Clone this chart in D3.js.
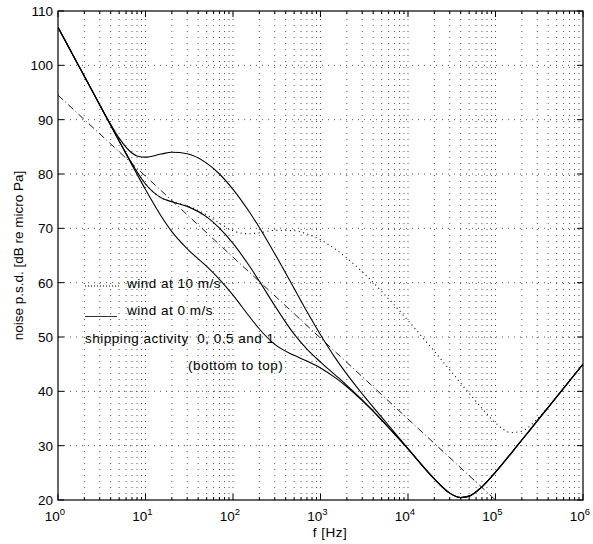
<!DOCTYPE html>
<html>
<head>
<meta charset="utf-8">
<script src="https://cdn.jsdelivr.net/npm/d3@7"></script>
<style>
  body { margin: 0; background: #fff; }
  svg { font-family: "Liberation Sans", Arial, Helvetica, sans-serif; }
</style>
</head>
<body>
<svg width="593" height="544"></svg>
<script>
// frequencies (Hz) and noise levels (dB)
const freqHz = [1, 2, 3, 4, 5, 7, 8, 10, 15, 20, 30, 50, 70, 100, 150, 200, 300, 500, 700,
  1000, 1500, 2000, 3000, 5000, 7000, 1e4, 2e4, 3e4, 4e4, 5e4, 7e4, 1e5, 1.5e5, 2e5, 3e5, 5e5, 1e6]

const ship0 = [107, 97.97, 92.69, 88.94, 86.04, 81.68, 79.96, 77.13, 72.32, 69.4, 66.24, 62.98, 60.6,
  57.69, 54.0, 51.47, 48.64, 46.62, 45.58, 44.31, 42.43, 40.84, 38.29, 34.7, 32.14, 29.41, 23.88,
  21.26, 20.44, 20.71, 22.43, 25.13, 28.55, 31.04, 34.56, 38.98, 45.0]
const ship05 = [107, 98.0, 92.7, 88.96, 86.09, 81.94, 80.4, 78.16, 75.65, 74.88, 74.04, 72.1, 70.04,
  67.22, 63.34, 60.28, 55.77, 50.52, 47.76, 45.38, 42.9, 41.11, 38.42, 34.74, 32.16, 29.42, 23.88,
  21.26, 20.44, 20.71, 22.43, 25.13, 28.55, 31.04, 34.56, 38.98, 45.0]
const ship1 = [107, 98.0, 92.74, 89.15, 86.6, 83.86, 83.33, 83.1, 83.67, 84.0, 83.74, 82.0, 80.0,
  77.17, 73.27, 70.15, 65.34, 58.93, 54.69, 50.42, 45.98, 43.16, 39.53, 35.24, 32.46, 29.44, 23.9,
  21.27, 20.45, 20.71, 22.43, 25.13, 28.55, 31.04, 34.56, 38.98, 45.0]
const wind10 = [107, 98.0, 92.7, 88.96, 86.09, 81.94, 80.4, 78.17, 75.67, 74.92, 74.14, 72.47, 70.94,
  69.56, 68.99, 69.19, 69.62, 69.57, 68.97, 67.88, 66.1, 64.53, 62.0, 58.4, 55.85, 53.04, 47.36,
  43.95, 41.52, 39.64, 36.86, 34.2, 32.42, 32.67, 34.92, 39.03, 45.0]

// reference straight line (dash-dot)
const refFreq = [1, 1e5]
const refLevel = [94.5, 20]

const yTicks = [20, 30, 40, 50, 60, 70, 80, 90, 100, 110]
const xDecades = [0, 1, 2, 3, 4, 5, 6]

const margin = { left: 58, right: 10, top: 11, bottom: 44 }
const width = 593, height = 544
const svg = d3.select('svg')

const x = d3.scaleLog().domain([1, 1e6]).range([margin.left, width - margin.right])
const y = d3.scaleLinear().domain([20, 110]).range([height - margin.bottom, margin.top])

const x0 = x.range()[0], x1 = x.range()[1]
const y0 = y.range()[0], y1 = y.range()[1]

// log minor positions
let minors = []
xDecades.slice(0, -1).forEach(d => {
  for (let k = 1; k <= 9; k++) minors.push(k * Math.pow(10, d))
})
minors.push(1e6)

const grid = svg.append('g')
grid.selectAll('.vg')
  .data(minors.filter(v => v > 1 && v < 1e6))
  .enter().append('line')
  .attr('x1', d => x(d)).attr('x2', d => x(d))
  .attr('y1', y0).attr('y2', y1)
  .style('stroke', '#555')
  .style('stroke-width', '1px')
  .style('stroke-dasharray', '1,5')
grid.selectAll('.hg')
  .data(yTicks.slice(1, -1))
  .enter().append('line')
  .attr('x1', x0).attr('x2', x1)
  .attr('y1', d => y(d)).attr('y2', d => y(d))
  .style('stroke', '#555')
  .style('stroke-width', '1px')
  .style('stroke-dasharray', '1,5')

// ticks on all four sides, pointing inward
const ticks = svg.append('g').style('stroke', '#000').style('stroke-width', '1px')
minors.forEach(v => {
  const lg = Math.log10(v)
  const major = Math.abs(lg - Math.round(lg)) < 1e-9
  const len = major ? 6 : 3
  ticks.append('line').attr('x1', x(v)).attr('x2', x(v)).attr('y1', y0).attr('y2', y0 - len)
  ticks.append('line').attr('x1', x(v)).attr('x2', x(v)).attr('y1', y1).attr('y2', y1 + len)
})
yTicks.forEach(v => {
  ticks.append('line').attr('x1', x0).attr('x2', x0 + 6).attr('y1', y(v)).attr('y2', y(v))
  ticks.append('line').attr('x1', x1).attr('x2', x1 - 6).attr('y1', y(v)).attr('y2', y(v))
})

svg.append('rect')
  .attr('x', x0).attr('y', y1)
  .attr('width', x1 - x0).attr('height', y0 - y1)
  .style('fill', 'none').style('stroke', '#000').style('stroke-width', '1.2px')

// tick labels
svg.selectAll('.yl')
  .data(yTicks)
  .enter().append('text')
  .attr('x', x0 - 5).attr('y', d => y(d) + 5)
  .attr('text-anchor', 'end')
  .style('font-size', '13.5px')
  .text(d => d)

const xl = svg.selectAll('.xl')
  .data(xDecades)
  .enter().append('text')
  .attr('x', d => x(Math.pow(10, d)) - 3)
  .attr('y', y0 + 21)
  .attr('text-anchor', 'middle')
  .style('font-size', '13.5px')
xl.append('tspan').text('10')
xl.append('tspan').attr('dy', -6).style('font-size', '9.5px').text(d => d)

svg.append('text')
  .attr('x', 330).attr('y', 537)
  .attr('text-anchor', 'middle')
  .style('font-size', '13.5px')
  .style('letter-spacing', '0.5px')
  .text('f [Hz]')

svg.append('text')
  .attr('transform', `translate(23, ${(y0 + y1) / 2}) rotate(-90)`)
  .attr('text-anchor', 'middle')
  .style('font-size', '13.5px')
  .text('noise p.s.d. [dB re micro Pa]')

// curves
const line = d3.line()
  .x(d => x(d[0]))
  .y(d => y(d[1]))
  .curve(d3.curveMonotoneX)

const clip = svg.append('clipPath').attr('id', 'plot')
clip.append('rect').attr('x', x0).attr('y', y1).attr('width', x1 - x0).attr('height', y0 - y1)
const plot = svg.append('g').attr('clip-path', 'url(#plot)')

plot.append('path')
  .attr('d', line(refFreq.map((f, i) => [f, refLevel[i]])))
  .style('fill', 'none').style('stroke', '#000').style('stroke-width', '0.9px')
  .style('stroke-dasharray', '7,3,1,3')

plot.append('path')
  .attr('d', line(freqHz.map((f, i) => [f, wind10[i]])))
  .style('fill', 'none').style('stroke', '#000').style('stroke-width', '1.1px')
  .style('stroke-dasharray', '1,3.5')

;[ship0, ship05, ship1].forEach(s => {
  plot.append('path')
    .attr('d', line(freqHz.map((f, i) => [f, s[i]])))
    .style('fill', 'none').style('stroke', '#000').style('stroke-width', '1.1px')
})

// legend-like annotations
const leg = svg.append('g').style('font-size', '13.5px').style('letter-spacing', '0.5px')
leg.append('line').attr('x1', 85).attr('x2', 119).attr('y1', 286).attr('y2', 286)
  .style('stroke', '#000').style('stroke-dasharray', '1,2')
leg.append('text').attr('x', 127).attr('y', 288).text('wind at 10 m/s')
leg.append('line').attr('x1', 85).attr('x2', 117).attr('y1', 316.5).attr('y2', 316.5)
  .style('stroke', '#000').style('stroke-width', '0.8px')
leg.append('text').attr('x', 127).attr('y', 315).text('wind at 0 m/s')
leg.append('text').attr('x', 85).attr('y', 342.5).text('shipping activity\u00a0 0, 0.5 and 1')
leg.append('text').attr('x', 188).attr('y', 369.5).text('(bottom to top)')
</script>
</body>
</html>
